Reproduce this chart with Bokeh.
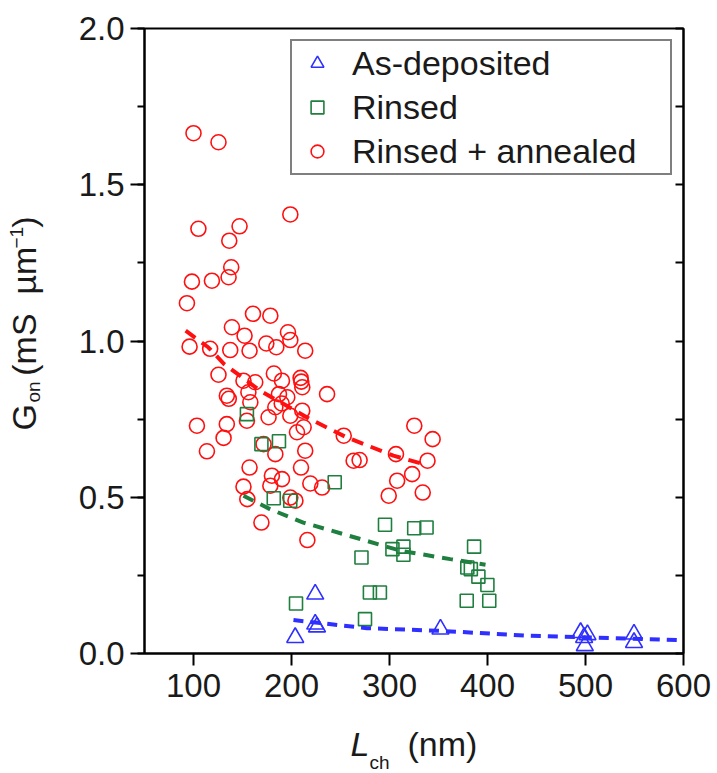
import math
from bokeh.plotting import figure
from bokeh.models import (LinearAxis, SingleIntervalTicker, Range1d, Title,
                          Legend, LegendItem, CustomJSTickFormatter)
from bokeh.embed import file_html
from bokeh.resources import INLINE

# ---- data ----
ra_L = [100, 125.5, 198.8, 105, 147, 136.5, 138.5, 135.8, 98.4, 118.8, 93.3, 160.7, 178.4,
        139.2, 152.1, 96, 117, 137.5, 157.2, 174.3, 184.5, 196.4, 198.8, 214, 125.5, 151,
        163, 182, 190.3, 209.3, 211, 134, 156, 158, 187.2, 195.7, 236.3, 183.5, 211, 176.6,
        198.8, 103.5, 134, 130.7, 154.5, 205.6, 212.4, 253.3, 113.7, 183.5, 214, 171.5,
        157.2, 209.7, 180, 190.3, 178.4, 151, 219.2, 231.2, 154.9, 198.8, 204, 169.3, 216.2,
        263.4, 269.5, 306.6, 325.3, 344, 338.8, 323.1, 307.8, 299.2, 333.9, 136, 190, 210]
ra_G = [1.665, 1.636, 1.405, 1.359, 1.367, 1.321, 1.236, 1.204, 1.190, 1.193, 1.121, 1.087,
        1.081, 1.044, 1.017, 0.982, 0.975, 0.971, 0.969, 0.992, 0.980, 1.028, 1.003, 0.969,
        0.892, 0.873, 0.868, 0.896, 0.873, 0.882, 0.852, 0.825, 0.836, 0.804, 0.830, 0.820,
        0.830, 0.788, 0.777, 0.756, 0.761, 0.729, 0.734, 0.690, 0.745, 0.708, 0.724, 0.697,
        0.647, 0.638, 0.649, 0.670, 0.595, 0.595, 0.569, 0.558, 0.537, 0.534, 0.544, 0.531,
        0.494, 0.499, 0.489, 0.419, 0.363, 0.617, 0.619, 0.638, 0.729, 0.686, 0.617, 0.574,
        0.553, 0.505, 0.515, 0.815, 0.800, 0.870]

ri_L = [154.5, 169.3, 187.2, 181.9, 198.7, 244.1, 295.4, 325.2, 337.8, 271.4, 303, 314.2,
        314.2, 386.3, 379.4, 383, 390.7, 399.9, 280, 290.2, 378.8, 401.8, 204.6, 275]
ri_G = [0.766, 0.670, 0.679, 0.497, 0.489, 0.548, 0.412, 0.401, 0.403, 0.307, 0.334, 0.342,
        0.316, 0.342, 0.275, 0.270, 0.246, 0.219, 0.195, 0.195, 0.169, 0.169, 0.160, 0.110]

ad_L = [224.2, 203.8, 224.2, 226, 352, 498.6, 499.3, 495, 502, 549.5, 549.5]
ad_G = [0.190, 0.051, 0.094, 0.085, 0.078, 0.051, 0.025, 0.067, 0.060, 0.062, 0.035]

fit_ra_L = [92, 115, 131, 168, 219, 256, 304, 335]
fit_ra_G = [1.033, 0.980, 0.927, 0.841, 0.750, 0.692, 0.633, 0.606]
fit_ri_L = [151, 178, 212, 253, 311, 362, 398]
fit_ri_G = [0.505, 0.462, 0.419, 0.382, 0.329, 0.302, 0.284]
fit_ad_L = [202, 277, 349, 441, 509, 597]
fit_ad_G = [0.107, 0.081, 0.073, 0.057, 0.051, 0.043]

series_labels = ["As-deposited", "Rinsed", "Rinsed + annealed"]
x_ticks_interval = 100
y_ticks_interval = 0.5

RED = "#ff1010"
GREEN = "#1f7f3f"
BLUE = "#2f2fff"
FONT = "Liberation Sans"
TXT = "#1a1a1a"
NB = "\u00a0"

p = figure(width=717, height=772, output_backend="svg", toolbar_location=None,
           x_range=Range1d(50, 600), y_range=Range1d(0, 2.0),
           min_border_left=144, min_border_right=34, min_border_top=28, min_border_bottom=119,
           x_axis_location=None, y_axis_location=None)
p.grid.visible = False
p.outline_line_color = "black"
p.outline_line_width = 2
p.background_fill_color = "white"
p.border_fill_color = "white"

# axes
xa = LinearAxis(ticker=SingleIntervalTicker(interval=x_ticks_interval, num_minor_ticks=0))
xa.axis_line_width = 2
xa.major_tick_line_width = 2
xa.major_tick_out = 12
xa.major_tick_in = 0
xa.minor_tick_out = 0
xa.minor_tick_in = 0
xa.major_label_text_font = FONT
xa.major_label_text_font_size = "33px"
xa.major_label_text_color = TXT
xa.major_label_standoff = 8
p.add_layout(xa, "below")

ya = LinearAxis(ticker=SingleIntervalTicker(interval=y_ticks_interval, num_minor_ticks=2))
ya.axis_line_width = 2
ya.major_tick_line_width = 2
ya.minor_tick_line_width = 2
ya.major_tick_out = 14
ya.major_tick_in = 0
ya.minor_tick_out = 7
ya.minor_tick_in = 0
ya.major_label_text_font = FONT
ya.major_label_text_font_size = "33px"
ya.major_label_text_color = TXT
ya.major_label_standoff = 6
ya.formatter = CustomJSTickFormatter(code="return tick.toFixed(1);")
p.add_layout(ya, "left")

rax = LinearAxis(ticker=SingleIntervalTicker(interval=y_ticks_interval, num_minor_ticks=2))
rax.axis_line_width = 2
rax.major_tick_out = 0
rax.major_tick_in = 0
rax.minor_tick_in = 8
rax.minor_tick_out = 0
rax.minor_tick_line_width = 2
rax.major_label_standoff = 0
rax.formatter = CustomJSTickFormatter(code="return '';")
p.add_layout(rax, "right")

# data
r_ra = p.scatter(ra_L, ra_G, marker="circle", size=15, fill_color=None,
                 line_color=RED, line_width=1.6)
p.line(fit_ra_L, fit_ra_G, line_color=RED, line_width=4, line_dash="12 8")
r_ri = p.scatter(ri_L, ri_G, marker="square", size=13, fill_color=None,
                 line_color=GREEN, line_width=1.6)
p.line(fit_ri_L, fit_ri_G, line_color=GREEN, line_width=4, line_dash="11 8")
r_ad = p.scatter(ad_L, ad_G, marker="triangle", size=17, fill_color=None,
                 line_color=BLUE, line_width=1.6)
p.line(fit_ad_L, fit_ad_G, line_color=BLUE, line_width=4, line_dash="10 7")

legend = Legend(items=[LegendItem(label=series_labels[0], renderers=[r_ad]),
                       LegendItem(label=series_labels[1], renderers=[r_ri]),
                       LegendItem(label=series_labels[2], renderers=[r_ra])],
                location="top_right", margin=11, padding=0, spacing=0,
                glyph_width=50, glyph_height=32, label_height=44, label_width=318,
                label_standoff=10, border_line_color="black", border_line_width=2,
                label_text_font=FONT, label_text_font_size="34px", label_text_color=TXT,
                background_fill_alpha=1.0)
p.add_layout(legend, "center")


# axis titles built from side-panel titles (pieces for subscripts / superscripts)
def piece(side, text, size, offset, style="normal"):
    p.add_layout(Title(text=text, text_font=FONT, text_font_size=size,
                       text_font_style=style, text_color=TXT, align="left",
                       vertical_align="middle", offset=offset, standoff=-300), side)


def spacer(side, advance):
    p.add_layout(Title(text=NB, text_font=FONT, text_font_size="1px",
                       text_color="white", standoff=advance - 3), side)


# y title: G_on (mS um^-1)
spacer("left", 42)
piece("left", "on", "19px", 251)
spacer("left", 10)
piece("left", "G" + NB * 3 + "(mS" + NB * 2 + "µm" + NB * 2 + ")", "34px", 223)
spacer("left", 7)
piece("left", "−1", "19px", 405)

# x title: L_ch (nm)
spacer("below", 44)
piece("below", "L", "34px", 206, "italic")
piece("below", "(nm)", "34px", 263)
spacer("below", 19)
piece("below", "ch", "19px", 225)

open("out.html", "w").write(file_html(p, INLINE))
